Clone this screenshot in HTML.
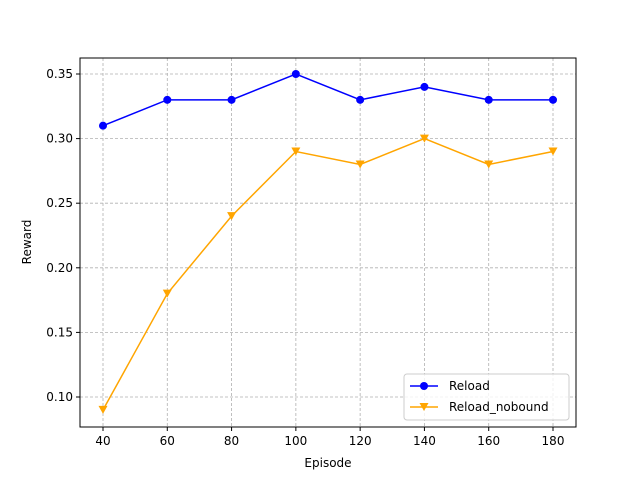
<!DOCTYPE html>
<html><head><meta charset="utf-8"><style>
body{margin:0;background:#fff;font-family:"Liberation Sans","DejaVu Sans",sans-serif}
</style></head><body>
<svg id="chart" width="640" height="480" xmlns="http://www.w3.org/2000/svg" font-family="DejaVu Sans, Liberation Sans, sans-serif" font-size="12">
<rect width="640" height="480" fill="#fff"/>
<g id="grid"></g>
<g id="series"></g>
<rect x="80" y="58" width="496" height="369" fill="none" stroke="#000" stroke-width="1"/>
<g id="ticks"></g>
<text x="328" y="467" text-anchor="middle">Episode</text>
<text transform="translate(31,242) rotate(-90)" text-anchor="middle">Reward</text>
<g>
<rect x="404" y="374" width="165" height="46" rx="3" fill="#fff" fill-opacity="0.8" stroke="#ccc"/>
<g>
<line x1="410" y1="386" x2="438" y2="386" stroke="blue" stroke-width="1.5"/>
<circle cx="424" cy="386" r="4" fill="blue"/>
<text x="449" y="390">Reload</text></g>
<g>
<line x1="410" y1="407" x2="438" y2="407" stroke="orange" stroke-width="1.5"/>
<path d="M419.5,403 L428.5,403 L424,411 Z" fill="orange"/>
<text x="449" y="411">Reload_nobound</text></g>
</g>
</svg>
<script>
const episodes=[40,60,80,100,120,140,160,180];
const reload=[0.31,0.33,0.33,0.35,0.33,0.34,0.33,0.33];
const nobound=[0.09,0.18,0.24,0.29,0.28,0.30,0.28,0.29];
const xTicks=[40,60,80,100,120,140,160,180];
const yTicks=[0.10,0.15,0.20,0.25,0.30,0.35];
const NS="http://www.w3.org/2000/svg";
function X(v){return 103+(v-40)*450/140;}
function Y(v){return 397-(v-0.10)*323/0.25;}
function mk(t,a,p){const e=document.createElementNS(NS,t);for(const k in a)e.setAttribute(k,a[k]);p.appendChild(e);return e;}
const grid=document.getElementById('grid'),ticks=document.getElementById('ticks'),ser=document.getElementById('series');
xTicks.forEach(v=>{const x=X(v);
 const g=mk('line',{x1:x,y1:58,x2:x,y2:427,stroke:'#b0b0b0','stroke-dasharray':'3,2','stroke-width':0.8},grid);
 
 
 mk('line',{x1:x,y1:427,x2:x,y2:431,stroke:'#000'},ticks);
 const t=mk('text',{x:x,y:445,'text-anchor':'middle'},ticks);t.textContent=v;
 
 });
yTicks.forEach(v=>{const y=Y(v);
 const g=mk('line',{x1:80,y1:y,x2:576,y2:y,stroke:'#b0b0b0','stroke-dasharray':'3,2','stroke-width':0.8},grid);
 
 
 mk('line',{x1:76,y1:y,x2:80,y2:y,stroke:'#000'},ticks);
 const t=mk('text',{x:73,y:y+4,'text-anchor':'end'},ticks);t.textContent=v.toFixed(2);
 
 });
function line(vals,color,name){
 const pl=mk('polyline',{points:vals.map((v,i)=>X(episodes[i])+','+Y(v)).join(' '),fill:'none',stroke:color,'stroke-width':1.5},ser);
 
 }
line(reload,'blue','reload');
line(nobound,'orange','reload-nobound');
reload.forEach((v,i)=>{const c=mk('circle',{cx:X(episodes[i]),cy:Y(v),r:4,fill:'blue'},ser);
 
 });
nobound.forEach((v,i)=>{const x=X(episodes[i]),y=Y(v);
 const p=mk('path',{d:`M${x-4.5},${y-4} L${x+4.5},${y-4} L${x},${y+4} Z`,fill:'orange'},ser);
 
 });
</script>
</body></html>
